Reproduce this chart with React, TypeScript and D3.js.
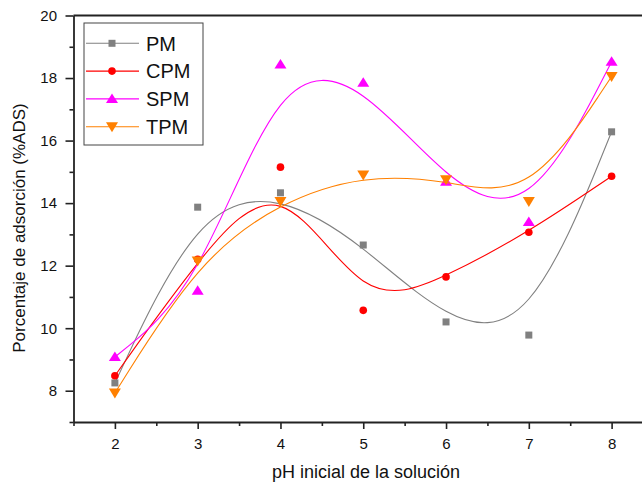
import { useEffect, useRef } from "react";
import * as d3 from "d3";

const phValues = [2, 3, 4, 5, 6, 7, 8];
const pm = [8.25, 13.87, 14.33, 12.66, 10.2, 9.78, 16.28];
const cpm = [8.48, 12.2, 15.15, 10.57, 11.64, 13.07, 14.86];
const spm = [9.08, 11.2, 18.43, 17.85, 14.68, 13.4, 18.52];
const tpm = [7.93, 12.15, 14.05, 14.9, 14.75, 14.05, 18.05];

const seriesNames = ["PM", "CPM", "SPM", "TPM"];
const yTicks = [8, 10, 12, 14, 16, 18, 20];
const yMinorTicks = [7, 9, 11, 13, 15, 17, 19];
const xMinorTicks = [1.5, 2.5, 3.5, 4.5, 5.5, 6.5, 7.5, 8.5];

const width = 642;
const height = 482;
const font = "'Liberation Sans', Arial, Helvetica, sans-serif";

const colors = ["#808080", "#ff0000", "#ff00ff", "#ff8000"];
const symbols = ["square", "circle", "up", "down"];

function drawMarker(g: any, kind: string, cx: number, cy: number, color: string) {
  if (kind === "square") {
    g.append("rect").attr("x", cx - 3.5).attr("y", cy - 3.5)
      .attr("width", 7).attr("height", 7).attr("fill", color);
  } else if (kind === "circle") {
    g.append("circle").attr("cx", cx).attr("cy", cy).attr("r", 3.8).attr("fill", color);
  } else if (kind === "up") {
    g.append("path")
      .attr("d", `M${cx},${cy - 5.5}L${cx + 6},${cy + 4}L${cx - 6},${cy + 4}Z`)
      .attr("fill", color);
  } else {
    g.append("path")
      .attr("d", `M${cx - 6},${cy - 4.5}L${cx + 6},${cy - 4.5}L${cx},${cy + 5.5}Z`)
      .attr("fill", color);
  }
}

const App = () => {
  const svgRef = useRef<SVGSVGElement>(null);

  useEffect(() => {
    const svg = d3.select(svgRef.current);
    svg.selectAll("*").remove();

    const x = d3.scaleLinear().domain([1.5, 8.5]).range([73.5, 653]);
    const y = d3.scaleLinear().domain([7, 20]).range([422, 15.5]);

    // top frame line
    svg.append("line")
      .attr("x1", 73.5).attr("x2", width)
      .attr("y1", y(20)).attr("y2", y(20))
      .attr("stroke", "#222").attr("stroke-width", 1.8);

    // axes
    const xAxis = svg.append("g")
      .attr("transform", `translate(0,${y(7)})`)
      .call(d3.axisBottom(x).tickValues(phValues).tickSize(7).tickSizeOuter(0).tickPadding(9).tickFormat(d3.format("d")));
    const xMinor = svg.append("g")
      .attr("transform", `translate(0,${y(7)})`)
      .call(d3.axisBottom(x).tickValues(xMinorTicks).tickSize(4).tickSizeOuter(0).tickFormat(() => ""));
    const yAxis = svg.append("g")
      .attr("transform", `translate(${x(1.5)},0)`)
      .call(d3.axisLeft(y).tickValues(yTicks).tickSize(8).tickSizeOuter(0).tickPadding(8.5).tickFormat(d3.format("d")));
    const yMinor = svg.append("g")
      .attr("transform", `translate(${x(1.5)},0)`)
      .call(d3.axisLeft(y).tickValues(yMinorTicks).tickSize(4).tickSizeOuter(0).tickFormat(() => ""));

    [xAxis, xMinor, yAxis, yMinor].forEach((a) => {
      a.selectAll("path").attr("stroke", "#222").attr("stroke-width", 1.8);
      a.selectAll("line").attr("stroke", "#222").attr("stroke-width", 1.6);
      a.selectAll("text").attr("font-family", font).attr("font-size", 15).attr("fill", "#111");
    });
    xMinor.select(".domain").remove();
    yMinor.select(".domain").remove();

    // axis titles
    svg.append("text")
      .attr("x", 366).attr("y", 478)
      .attr("text-anchor", "middle")
      .attr("font-family", font).attr("font-size", 18).attr("fill", "#111")
      .text("pH inicial de la solución");
    svg.append("text")
      .attr("transform", "translate(24.5,228) rotate(-90)")
      .attr("text-anchor", "middle")
      .attr("font-family", font).attr("font-size", 17).attr("fill", "#111")
      .text("Porcentaje de adsorción (%ADS)");

    // series
    const allSeries = [pm, cpm, spm, tpm];
    const line = d3.line<number>()
      .x((_, i) => x(phValues[i]))
      .y((d) => y(d))
      .curve(d3.curveBasis);

    allSeries.forEach((vals, si) => {
      const g = svg.append("g");
      g.append("path")
        .attr("d", line(vals))
        .attr("fill", "none")
        .attr("stroke", colors[si])
        .attr("stroke-width", 1.1);
      vals.forEach((v, i) => drawMarker(g, symbols[si], x(phValues[i]), y(v), colors[si]));
    });

    // legend
    const lg = svg.append("g");
    lg.append("rect")
      .attr("x", 84).attr("y", 23).attr("width", 119).attr("height", 122)
      .attr("fill", "white").attr("stroke", "#444").attr("stroke-width", 1);
    seriesNames.forEach((name, si) => {
      const ry = 43.3 + si * 27.8;
      lg.append("line")
        .attr("x1", 86).attr("x2", 139).attr("y1", ry).attr("y2", ry)
        .attr("stroke", colors[si]).attr("stroke-width", 1.1);
      drawMarker(lg, symbols[si], 112, ry, colors[si]);
      lg.append("text")
        .attr("x", 146).attr("y", ry)
        .attr("dy", "0.36em")
        .attr("font-family", font).attr("font-size", 20).attr("fill", "#111")
        .text(name);
    });
  }, []);

  return (
    <div>
      <svg
        ref={svgRef}
        width={width}
        height={height}
        style={{ position: "absolute", left: 0, top: 0, background: "white" }}
      />
    </div>
  );
};

export default App;
